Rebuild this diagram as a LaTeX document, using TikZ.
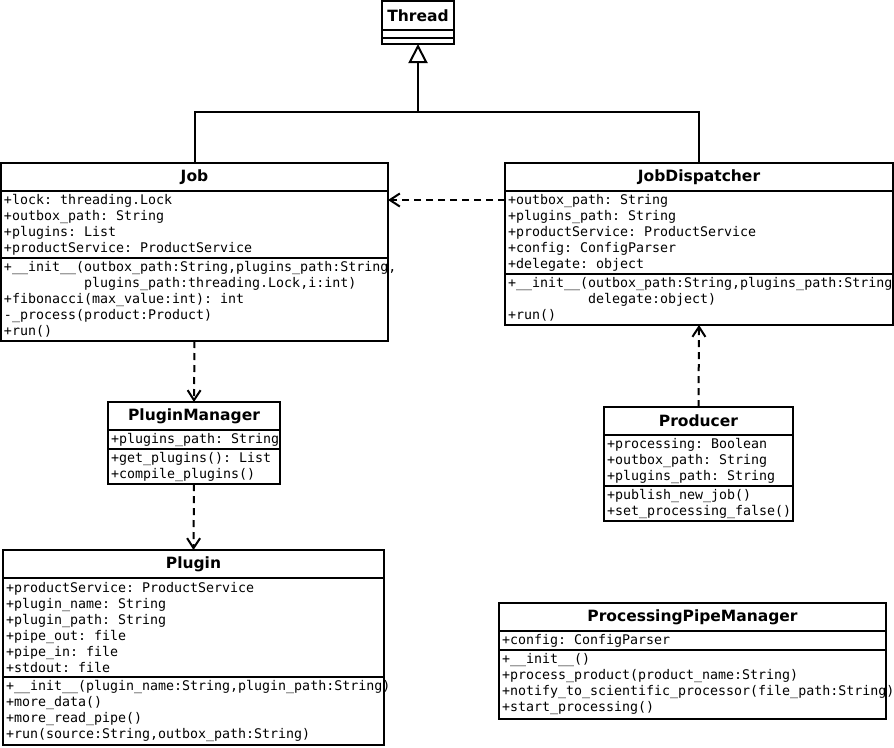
\documentclass[tikz,border=0pt]{standalone}
\usepackage{fontspec}
\setmainfont{DejaVu Sans}
\newfontfamily\monofont{DejaVu Sans Mono}[WordSpace={1,0,0}]
\usetikzlibrary{arrows.meta}

\newcommand{\memberfont}{\monofont\fontsize{13.3}{16}\selectfont\frenchspacing}
\newcommand{\ms}{\hspace*{8pt}}
\tikzset{
  classname/.style={draw, line width=1.4pt, inner sep=0pt, outer sep=0pt, minimum height=28pt,
    anchor=north west, font=\bfseries\fontsize{15.5}{18}\selectfont},
  members/.style={draw, line width=1.4pt, inner xsep=3pt, inner ysep=0pt, outer sep=0pt,
    align=left, anchor=north, font=\memberfont},
  link/.style={line width=2pt},
  generalization/.style={link, -{Triangle[open, length=19pt, width=19pt]}},
  usage/.style={link, dash pattern=on 7pt off 5pt, -{Straight Barb[length=10pt, width=13pt]}},
}
\newcommand{\initind}{\phantom{+\_\_init\_\_(}}

\begin{document}
\begin{tikzpicture}[x=1pt,y=-1pt]
\useasboundingbox (0,0) rectangle (894,747);

% Thread
\node[classname, minimum width=72pt, minimum height=29pt] (thread) at (382,1) {Thread};
\node[members, text width=66pt, minimum height=8pt] (thread-attr) at (thread.south) {};
\node[members, text width=66pt, minimum height=6pt] (thread-ops) at (thread-attr.south) {};

% Job
\node[classname, minimum width=387pt] (job) at (1,163) {Job};
\node[members, text width=381pt, minimum height=67pt] (job-attr) at (job.south)
  {+lock:\ms threading.Lock\\+outbox\_path:\ms String\\+plugins:\ms List\\+productService:\ms ProductService};
\node[members, text width=381pt, minimum height=83pt] (job-ops) at (job-attr.south)
  {+\_\_init\_\_(outbox\_path:String,plugins\_path:String,\\\initind plugins\_path:threading.Lock,i:int)\\+fibonacci(max\_value:int):\ms int\\-\_process(product:Product)\\+run()};

% JobDispatcher
\node[classname, minimum width=388pt] (dispatcher) at (505,163) {JobDispatcher};
\node[members, text width=382pt, minimum height=83pt] (dispatcher-attr) at (dispatcher.south)
  {+outbox\_path:\ms String\\+plugins\_path:\ms String\\+productService:\ms ProductService\\+config:\ms ConfigParser\\+delegate:\ms object};
\node[members, text width=382pt, minimum height=51pt] (dispatcher-ops) at (dispatcher-attr.south)
  {+\_\_init\_\_(outbox\_path:String,plugins\_path:String\\\initind delegate:object)\\+run()};

% PluginManager
\node[classname, minimum width=172pt] (manager) at (108,402) {PluginManager};
\node[members, text width=166pt, minimum height=19pt] (manager-attr) at (manager.south)
  {+plugins\_path:\ms String};
\node[members, text width=166pt, minimum height=35pt] (manager-ops) at (manager-attr.south)
  {+get\_plugins():\ms List\\+compile\_plugins()};

% Producer
\node[classname, minimum width=189pt] (producer) at (604,407) {Producer};
\node[members, text width=183pt, minimum height=51pt] (producer-attr) at (producer.south)
  {+processing:\ms Boolean\\+outbox\_path:\ms String\\+plugins\_path:\ms String};
\node[members, text width=183pt, minimum height=35pt] (producer-ops) at (producer-attr.south)
  {+publish\_new\_job()\\+set\_processing\_false()};

% Plugin
\node[classname, minimum width=381pt] (plugin) at (3,550) {Plugin};
\node[members, text width=375pt, minimum height=99pt] (plugin-attr) at (plugin.south)
  {+productService:\ms ProductService\\+plugin\_name:\ms String\\+plugin\_path:\ms String\\+pipe\_out:\ms file\\+pipe\_in:\ms file\\+stdout:\ms file};
\node[members, text width=375pt, minimum height=68pt] (plugin-ops) at (plugin-attr.south)
  {+\_\_init\_\_(plugin\_name:String,plugin\_path:String)\\+more\_data()\\+more\_read\_pipe()\\+run(source:String,outbox\_path:String)};

% ProcessingPipeManager
\node[classname, minimum width=387pt] (pipe) at (499,603) {ProcessingPipeManager};
\node[members, text width=381pt, minimum height=19pt] (pipe-attr) at (pipe.south)
  {+config:\ms ConfigParser};
\node[members, text width=381pt, minimum height=69pt] (pipe-ops) at (pipe-attr.south)
  {+\_\_init\_\_()\\+process\_product(product\_name:String)\\+notify\_to\_scientific\_processor(file\_path:String)\\+start\_processing()};

% connectors
\coordinate (fork) at (418,112);
\draw[link] (job.north) |- (fork) -| (dispatcher.north);
\draw[generalization] (fork) -- (thread-ops.south);
\draw[usage] ([yshift=-9pt]dispatcher.south west) -- ([yshift=-9pt]job.south east);
\draw[usage] (job-ops.south) -- (manager.north);
\draw[usage] (manager-ops.south) -- (plugin.north);
\draw[usage] (producer.north) -- (dispatcher-ops.south);
\end{tikzpicture}
\end{document}
